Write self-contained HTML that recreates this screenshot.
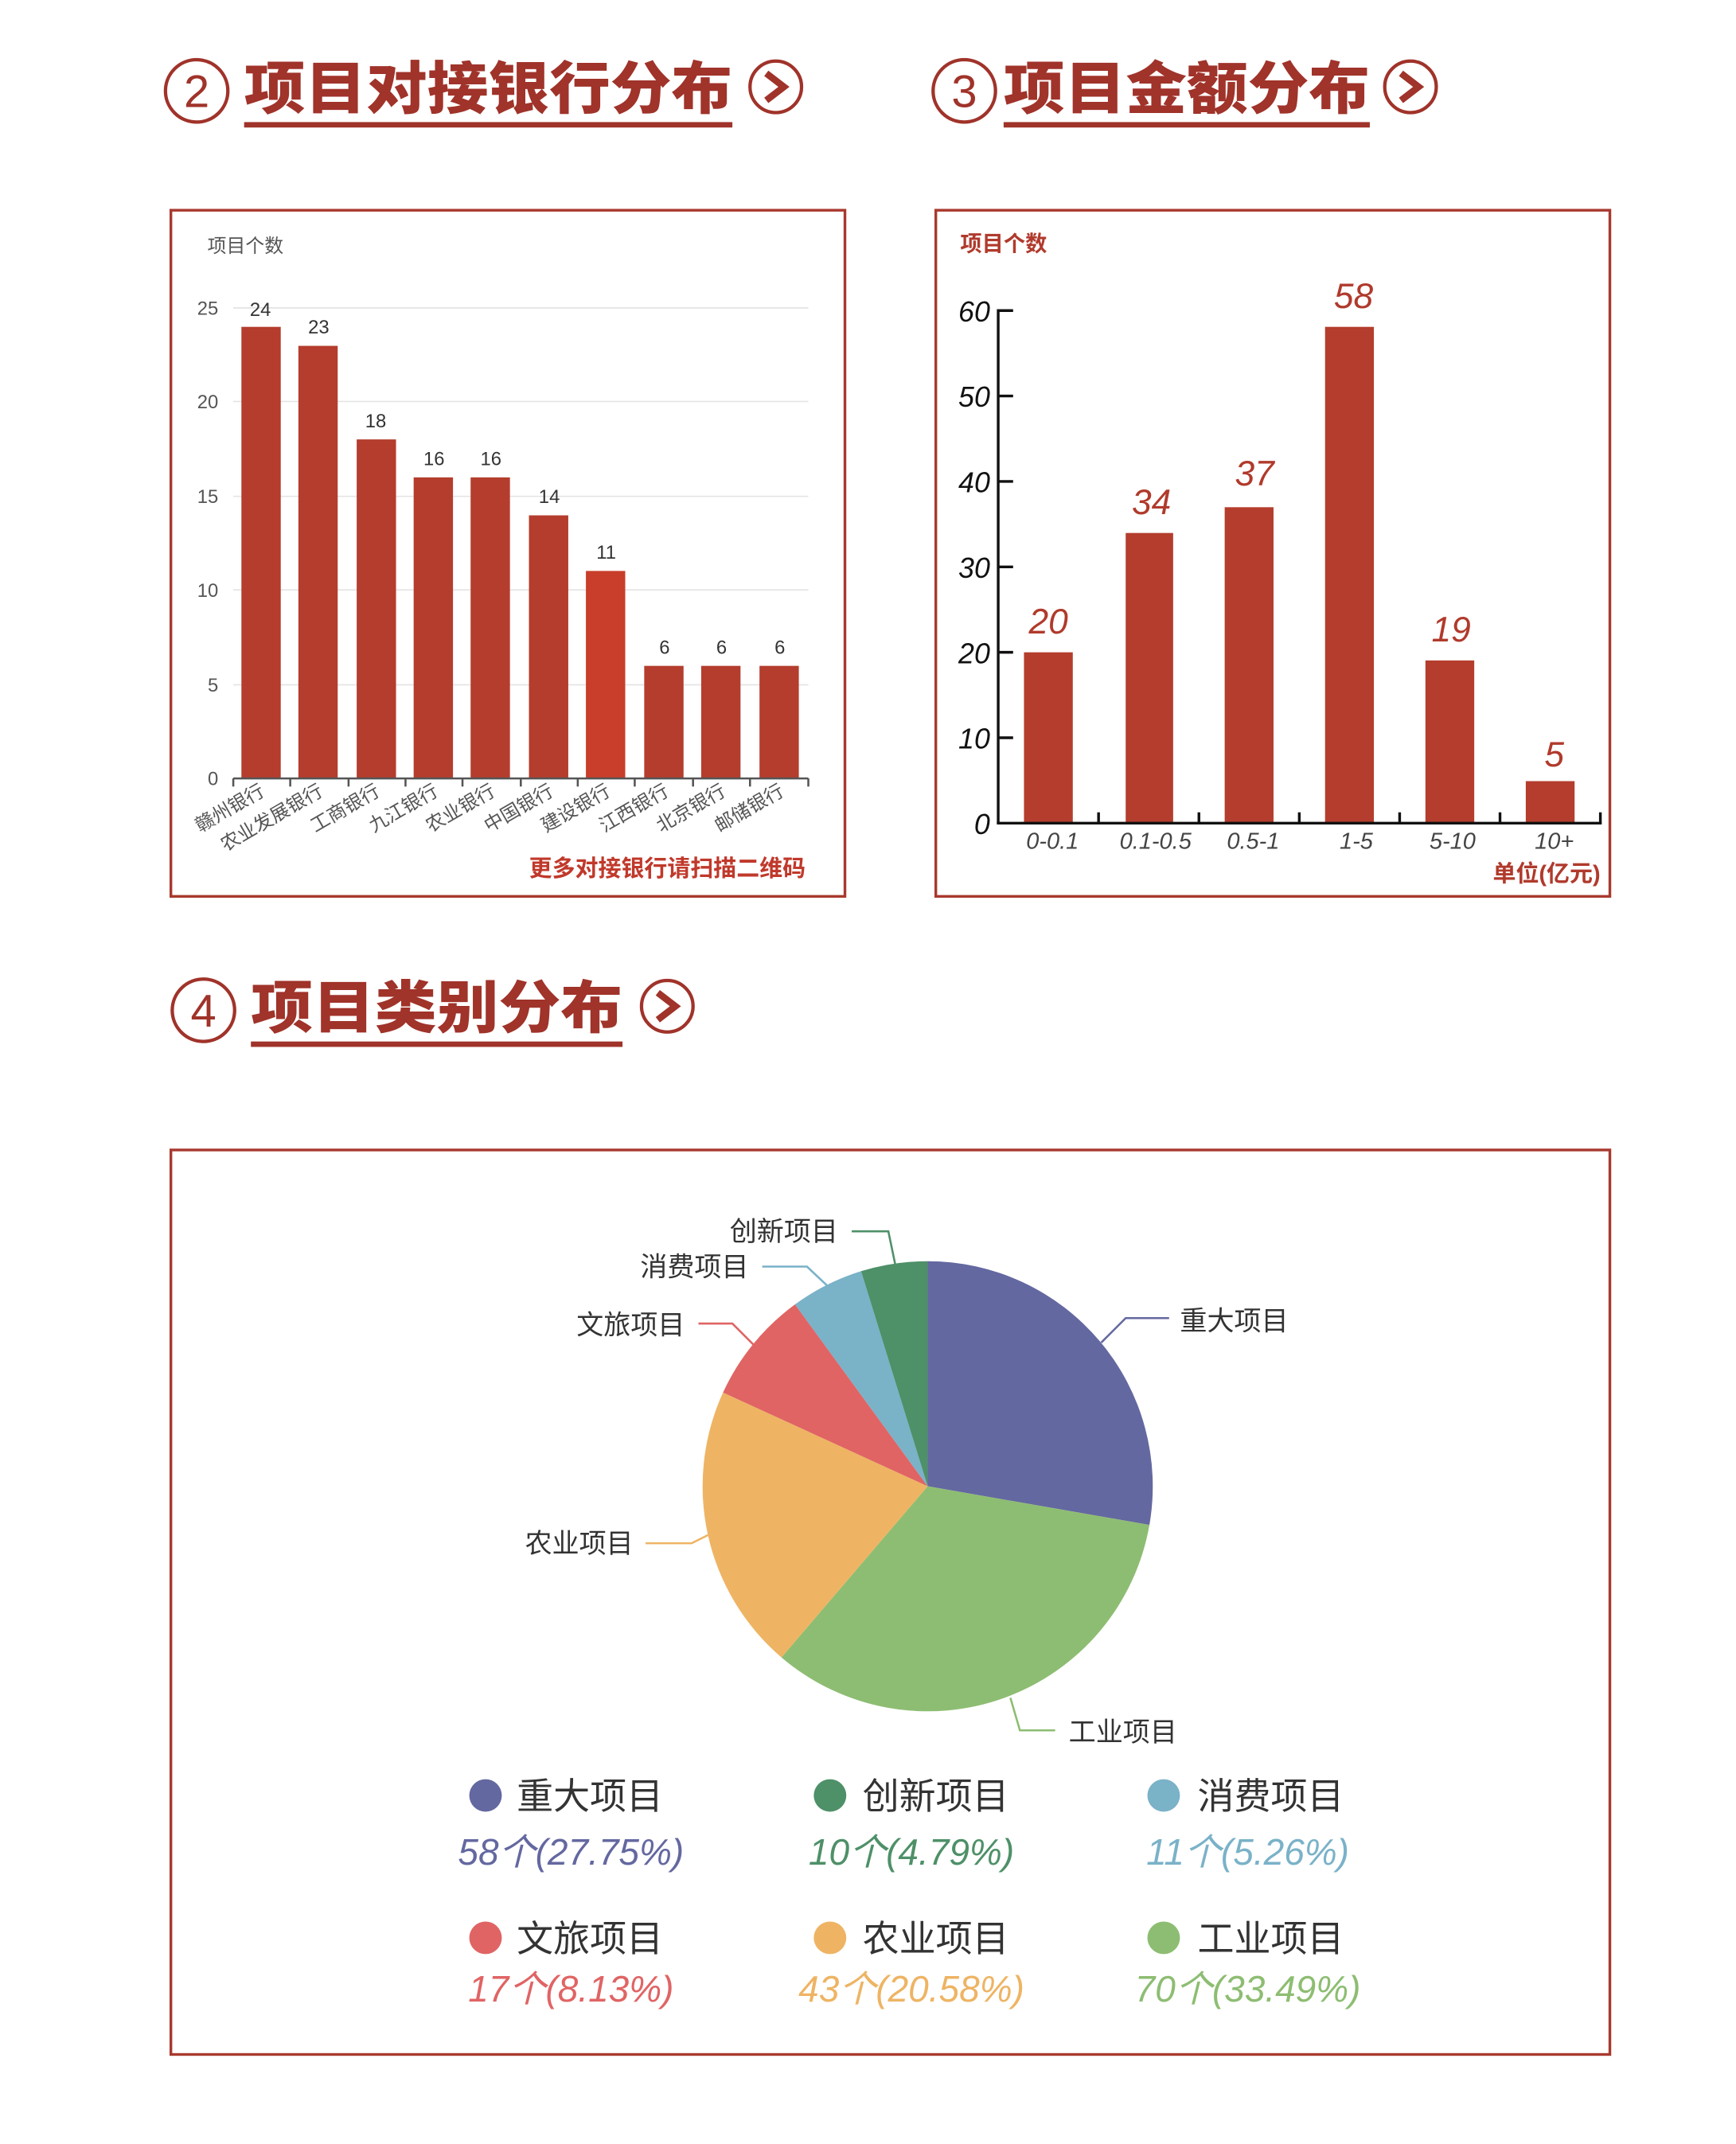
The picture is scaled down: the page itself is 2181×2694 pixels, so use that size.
<!DOCTYPE html>
<html><head><meta charset="utf-8"><style>
html,body{margin:0;padding:0;background:#fff;}
svg{display:block;}
text{font-family:"Liberation Sans","Noto Sans CJK SC",sans-serif;}
.h{font-family:"Noto Sans CJK SC",sans-serif;font-weight:900;fill:#a0332a;font-size:42px;}
.it{font-style:italic;}
</style></head><body>
<svg width="2181" height="2694" viewBox="0 0 1280 1581" xmlns="http://www.w3.org/2000/svg">
<rect width="1280" height="1581" fill="#fff"/>
<!-- headers -->
<g fill="none" stroke="#a0332a" stroke-width="2.5">
<circle cx="145" cy="67" r="23"/><circle cx="572" cy="64" r="19"/>
<circle cx="711" cy="67" r="23"/><circle cx="1040" cy="64" r="19"/>
<circle cx="150" cy="745" r="23"/><circle cx="492" cy="742" r="19"/>
</g>
<g fill="none" stroke="#a0332a" stroke-width="5" stroke-linejoin="miter">
<path d="M565 54 L578 64 L565 74"/><path d="M1033 54 L1046 64 L1033 74"/><path d="M485 732 L498 742 L485 752"/>
</g>
<g fill="#a0332a" font-size="34" font-family="Liberation Sans,sans-serif" text-anchor="middle">
<text x="145" y="79">2</text><text x="711" y="79">3</text><text x="150" y="757">4</text>
</g>
<text class="h" x="180" y="80" textLength="360" lengthAdjust="spacingAndGlyphs">项目对接银行分布</text>
<text class="h" x="740" y="80" textLength="270" lengthAdjust="spacingAndGlyphs">项目金额分布</text>
<text class="h" x="185" y="758" textLength="274" lengthAdjust="spacingAndGlyphs">项目类别分布</text>
<rect x="180" y="90" width="360" height="4" fill="#a0332a"/>
<rect x="740" y="90" width="270" height="4" fill="#a0332a"/>
<rect x="185" y="768" width="274" height="4" fill="#a0332a"/>

<!-- chart 1 -->
<rect x="126" y="155" width="497" height="506" fill="none" stroke="#a8392e" stroke-width="2"/>
<text x="153" y="186" font-size="14" fill="#555">项目个数</text>
<g stroke="#e4e4e4" stroke-width="1">
<line x1="172" y1="227" x2="596" y2="227"/><line x1="172" y1="296" x2="596" y2="296"/><line x1="172" y1="366" x2="596" y2="366"/><line x1="172" y1="435" x2="596" y2="435"/><line x1="172" y1="505" x2="596" y2="505"/>
</g>
<g font-size="14" fill="#555" text-anchor="end">
<text x="161" y="232">25</text><text x="161" y="301">20</text><text x="161" y="371">15</text><text x="161" y="440">10</text><text x="161" y="510">5</text><text x="161" y="579">0</text>
</g>
<g fill="#b43d2d">
<rect x="178" y="241" width="29" height="333"/>
<rect x="220" y="255" width="29" height="319"/>
<rect x="263" y="324" width="29" height="250"/>
<rect x="305" y="352" width="29" height="222"/>
<rect x="347" y="352" width="29" height="222"/>
<rect x="390" y="380" width="29" height="194"/>
<rect x="432" y="421" width="29" height="153" fill="#c83e2a"/>
<rect x="475" y="491" width="29" height="83"/>
<rect x="517" y="491" width="29" height="83"/>
<rect x="560" y="491" width="29" height="83"/>
</g>
<g font-size="14" fill="#333" text-anchor="middle">
<text x="192" y="233">24</text><text x="235" y="246">23</text><text x="277" y="315">18</text><text x="320" y="343">16</text><text x="362" y="343">16</text><text x="405" y="371">14</text><text x="447" y="412">11</text><text x="490" y="482">6</text><text x="532" y="482">6</text><text x="575" y="482">6</text>
</g>
<g stroke="#555" stroke-width="1.5">
<line x1="172" y1="574" x2="596" y2="574"/>
<line x1="172" y1="574" x2="172" y2="580"/><line x1="214" y1="574" x2="214" y2="580"/><line x1="257" y1="574" x2="257" y2="580"/><line x1="299" y1="574" x2="299" y2="580"/><line x1="341" y1="574" x2="341" y2="580"/><line x1="384" y1="574" x2="384" y2="580"/><line x1="426" y1="574" x2="426" y2="580"/><line x1="468" y1="574" x2="468" y2="580"/><line x1="511" y1="574" x2="511" y2="580"/><line x1="553" y1="574" x2="553" y2="580"/><line x1="596" y1="574" x2="596" y2="580"/>
</g>
<g font-size="14" fill="#555" text-anchor="end">
<text transform="translate(196,586) rotate(-30)">赣州银行</text>
<text transform="translate(239,586) rotate(-30)">农业发展银行</text>
<text transform="translate(281,586) rotate(-30)">工商银行</text>
<text transform="translate(324,586) rotate(-30)">九江银行</text>
<text transform="translate(366,586) rotate(-30)">农业银行</text>
<text transform="translate(409,586) rotate(-30)">中国银行</text>
<text transform="translate(451,586) rotate(-30)">建设银行</text>
<text transform="translate(494,586) rotate(-30)">江西银行</text>
<text transform="translate(536,586) rotate(-30)">北京银行</text>
<text transform="translate(579,586) rotate(-30)">邮储银行</text>
</g>
<text x="594" y="646" font-size="17" font-weight="bold" fill="#c0392b" text-anchor="end">更多对接银行请扫描二维码</text>

<!-- chart 2 -->
<rect x="690" y="155" width="497" height="506" fill="none" stroke="#a8392e" stroke-width="2"/>
<text x="708" y="185" font-size="16" font-weight="bold" fill="#b03a2c">项目个数</text>
<g fill="#b43d2d">
<rect x="755" y="481" width="36" height="126"/>
<rect x="830" y="393" width="35" height="214"/>
<rect x="903" y="374" width="36" height="233"/>
<rect x="977" y="241" width="36" height="366"/>
<rect x="1051" y="487" width="36" height="120"/>
<rect x="1125" y="576" width="36" height="31"/>
</g>
<g stroke="#111" stroke-width="2">
<line x1="736" y1="228" x2="736" y2="607"/><line x1="735" y1="607" x2="1181" y2="607"/>
<line x1="736" y1="229" x2="747" y2="229"/><line x1="736" y1="292" x2="747" y2="292"/><line x1="736" y1="355" x2="747" y2="355"/><line x1="736" y1="418" x2="747" y2="418"/><line x1="736" y1="481" x2="747" y2="481"/><line x1="736" y1="544" x2="747" y2="544"/>
<line x1="810" y1="599" x2="810" y2="607"/><line x1="884" y1="599" x2="884" y2="607"/><line x1="958" y1="599" x2="958" y2="607"/><line x1="1032" y1="599" x2="1032" y2="607"/><line x1="1106" y1="599" x2="1106" y2="607"/><line x1="1180" y1="599" x2="1180" y2="607"/>
</g>
<g font-size="21" class="it" fill="#111" text-anchor="end">
<text x="730" y="237">60</text><text x="730" y="300">50</text><text x="730" y="363">40</text><text x="730" y="426">30</text><text x="730" y="489">20</text><text x="730" y="552">10</text><text x="730" y="615">0</text>
</g>
<g font-size="26" class="it" fill="#b03a2c" text-anchor="middle">
<text x="773" y="467">20</text><text x="849" y="379">34</text><text x="925" y="358">37</text><text x="998" y="227">58</text><text x="1070" y="473">19</text><text x="1146" y="565">5</text>
</g>
<g font-size="17" class="it" fill="#444" text-anchor="middle">
<text x="776" y="626">0-0.1</text><text x="852" y="626">0.1-0.5</text><text x="924" y="626">0.5-1</text><text x="1000" y="626">1-5</text><text x="1071" y="626">5-10</text><text x="1146" y="626">10+</text>
</g>
<text x="1180" y="650" font-size="17" font-weight="bold" fill="#b03a2c" text-anchor="end">单位(亿元)</text>

<!-- pie -->
<rect x="126" y="848" width="1061" height="667" fill="none" stroke="#a8392e" stroke-width="2"/>
<path d="M684 1096 L684 930 A166 166 0 0 1 847.5 1124.5 Z" fill="#6468a0"/>
<path d="M684 1096 L847.5 1124.5 A166 166 0 0 1 576.2 1222.2 Z" fill="#8dbd72"/>
<path d="M684 1096 L576.2 1222.2 A166 166 0 0 1 533.1 1026.9 Z" fill="#eeb464"/>
<path d="M684 1096 L533.1 1026.9 A166 166 0 0 1 586.2 961.9 Z" fill="#e06464"/>
<path d="M684 1096 L586.2 961.9 A166 166 0 0 1 634.9 937.4 Z" fill="#7ab2c8"/>
<path d="M684 1096 L634.9 937.4 A166 166 0 0 1 684 930 Z" fill="#4e9068"/>
<g fill="none" stroke-width="1.5">
<path d="M812 990 L830 972 L862 972" stroke="#6468a0"/>
<path d="M745 1252 L752 1276 L778 1276" stroke="#8dbd72"/>
<path d="M476 1138 L510 1138 L522 1132" stroke="#eeb464"/>
<path d="M515 976 L540 976 L557 993" stroke="#e06464"/>
<path d="M562 934 L595 934 L612 950" stroke="#7ab2c8"/>
<path d="M628 908 L655 908 L660 932" stroke="#4e9068"/>
</g>
<g font-size="20" fill="#333">
<text x="870" y="981">重大项目</text>
<text x="788" y="1284">工业项目</text>
<text x="467" y="1145" text-anchor="end">农业项目</text>
<text x="505" y="984" text-anchor="end">文旅项目</text>
<text x="552" y="941" text-anchor="end">消费项目</text>
<text x="618" y="915" text-anchor="end">创新项目</text>
</g>
<!-- legend -->
<circle cx="358" cy="1324" r="12" fill="#6468a0"/><circle cx="612" cy="1324" r="12" fill="#4e9068"/><circle cx="858" cy="1324" r="12" fill="#7ab2c8"/>
<circle cx="358" cy="1429" r="12" fill="#e06464"/><circle cx="612" cy="1429" r="12" fill="#eeb464"/><circle cx="858" cy="1429" r="12" fill="#8dbd72"/>
<g font-size="27" fill="#333">
<text x="381" y="1334">重大项目</text><text x="636" y="1334">创新项目</text><text x="883" y="1334">消费项目</text>
<text x="381" y="1439">文旅项目</text><text x="636" y="1439">农业项目</text><text x="883" y="1439">工业项目</text>
</g>
<g font-size="27" class="it">
<text x="421" y="1375" text-anchor="middle" fill="#6468a0">58个(27.75%)</text>
<text x="672" y="1375" text-anchor="middle" fill="#4e9068">10个(4.79%)</text>
<text x="920" y="1375" text-anchor="middle" fill="#7ab2c8">11个(5.26%)</text>
<text x="421" y="1476" text-anchor="middle" fill="#e06464">17个(8.13%)</text>
<text x="672" y="1476" text-anchor="middle" fill="#eeb464">43个(20.58%)</text>
<text x="920" y="1476" text-anchor="middle" fill="#8dbd72">70个(33.49%)</text>
</g>
</svg>
</body></html>
